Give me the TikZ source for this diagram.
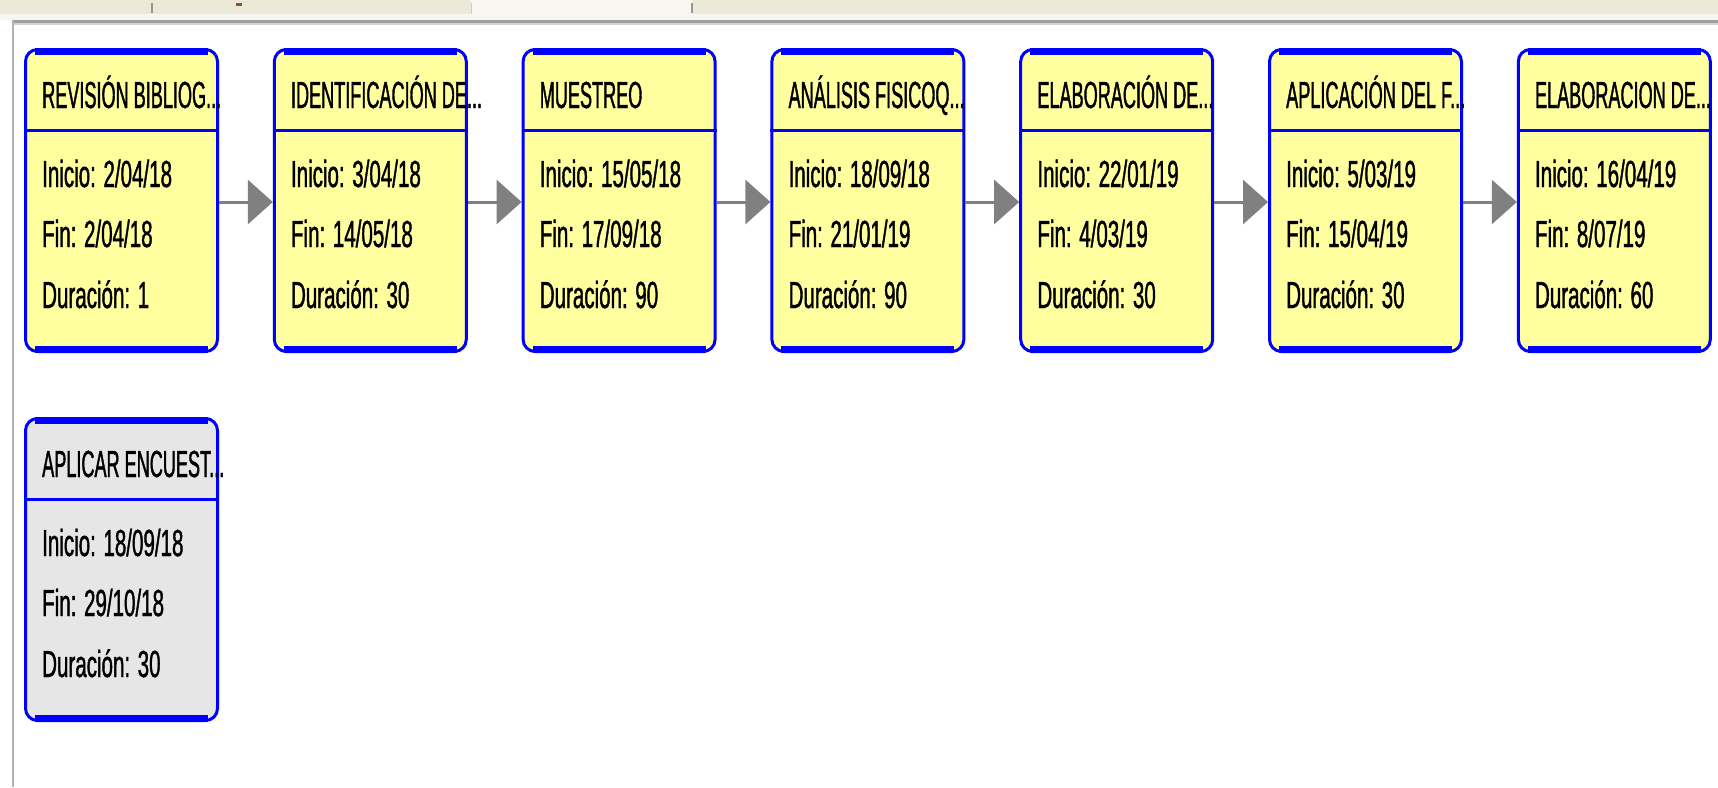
\documentclass[tikz,border=0pt]{standalone}
\usepackage{fontspec}
\usetikzlibrary{arrows.meta}
\newfontfamily\nfh[FakeStretch=0.48,FakeBold=1]{Liberation Sans}
\newfontfamily\nfb[FakeStretch=0.545,FakeBold=1]{Liberation Sans}
\definecolor{actyellow}{RGB}{255,255,160}
\definecolor{actgray}{RGB}{230,230,230}
\definecolor{actblue}{RGB}{0,0,255}
\definecolor{chrome}{RGB}{236,233,216}
\definecolor{chromelight}{RGB}{247,246,240}
\definecolor{arrowgray}{RGB}{128,128,128}
\tikzset{
  actnode/.style={draw=actblue, line width=3pt, rounded corners=12pt,
    minimum width=192pt, minimum height=302pt, inner sep=0pt, anchor=north west},
  acttext/.style={anchor=base west, inner sep=0pt, text=black,
    font=\nfb\fontsize{37.7}{40}\selectfont},
  acthead/.style={acttext, font=\nfh\fontsize{37.7}{40}\selectfont},
  conn/.style={draw=arrowgray, line width=3pt, -{Triangle[length=25pt,width=44pt]}}
}
\newcommand{\actbox}[8]{%
  \node[actnode, fill=#4] (#1) at (#2,#3) {};
  \fill[actblue] ([xshift=11pt]#1.north west) rectangle ([xshift=-11pt,yshift=-7pt]#1.north east);
  \fill[actblue] ([xshift=11pt]#1.south west) rectangle ([xshift=-11pt,yshift=7pt]#1.south east);
  \draw[actblue, line width=3pt] ([yshift=-82pt]#1.north west) -- ([yshift=-82pt]#1.north east);
  \node[acthead] (#1h) at ([xshift=18pt,yshift=-60pt]#1.north west) {#5};
  \node[acttext] (#1a) at ([xshift=18pt,yshift=-139pt]#1.north west) {Inicio: #6};
  \node[acttext] (#1b) at ([xshift=18pt,yshift=-199pt]#1.north west) {Fin: #7};
  \node[acttext] (#1c) at ([xshift=18pt,yshift=-260pt]#1.north west) {Duración: #8};
}
\begin{document}
\begin{tikzpicture}[x=1pt,y=-1pt]
\useasboundingbox (0,0) rectangle (1718,787);
\fill[white] (0,0) rectangle (1718,787);
% window chrome
\fill[chrome] (0,0) rectangle (1718,14);
\fill[chromelight] (471,0) rectangle (692,14);
\fill[chromelight] (0,14) rectangle (1718,20);
\fill[gray!75] (12,20) rectangle (1718,23);
\fill[gray!35] (12,23) rectangle (1718,25);
\fill[gray!60] (12,20) rectangle (14,787);
\draw[gray!80, line width=1.5pt] (152,3) -- (152,13);
\draw[gray!80, line width=1.5pt] (692,3) -- (692,13);
\draw[gray!40, line width=1pt] (471,3) -- (471,14);
\fill[brown!70!black] (236,3) rectangle (242,6);
% activity boxes
\actbox{b1}{24}{48}{actyellow}{REVISIÓN BIBLIOG...}{2/04/18}{2/04/18}{1}
\actbox{b2}{272.8}{48}{actyellow}{IDENTIFICACIÓN DE...}{3/04/18}{14/05/18}{30}
\actbox{b3}{521.6}{48}{actyellow}{MUESTREO}{15/05/18}{17/09/18}{90}
\actbox{b4}{770.4}{48}{actyellow}{ANÁLISIS FISICOQ...}{18/09/18}{21/01/19}{90}
\actbox{b5}{1019.2}{48}{actyellow}{ELABORACIÓN DE...}{22/01/19}{4/03/19}{30}
\actbox{b6}{1268}{48}{actyellow}{APLICACIÓN DEL F...}{5/03/19}{15/04/19}{30}
\actbox{b7}{1516.8}{48}{actyellow}{ELABORACION DE...}{16/04/19}{8/07/19}{60}
\actbox{b8}{24}{417}{actgray}{APLICAR ENCUEST...}{18/09/18}{29/10/18}{30}
% connectors
\draw[conn] ([yshift=-1.5pt]b1.east) -- ([yshift=-1.5pt]b2.west);
\draw[conn] ([yshift=-1.5pt]b2.east) -- ([yshift=-1.5pt]b3.west);
\draw[conn] ([yshift=-1.5pt]b3.east) -- ([yshift=-1.5pt]b4.west);
\draw[conn] ([yshift=-1.5pt]b4.east) -- ([yshift=-1.5pt]b5.west);
\draw[conn] ([yshift=-1.5pt]b5.east) -- ([yshift=-1.5pt]b6.west);
\draw[conn] ([yshift=-1.5pt]b6.east) -- ([yshift=-1.5pt]b7.west);
\end{tikzpicture}
\end{document}
